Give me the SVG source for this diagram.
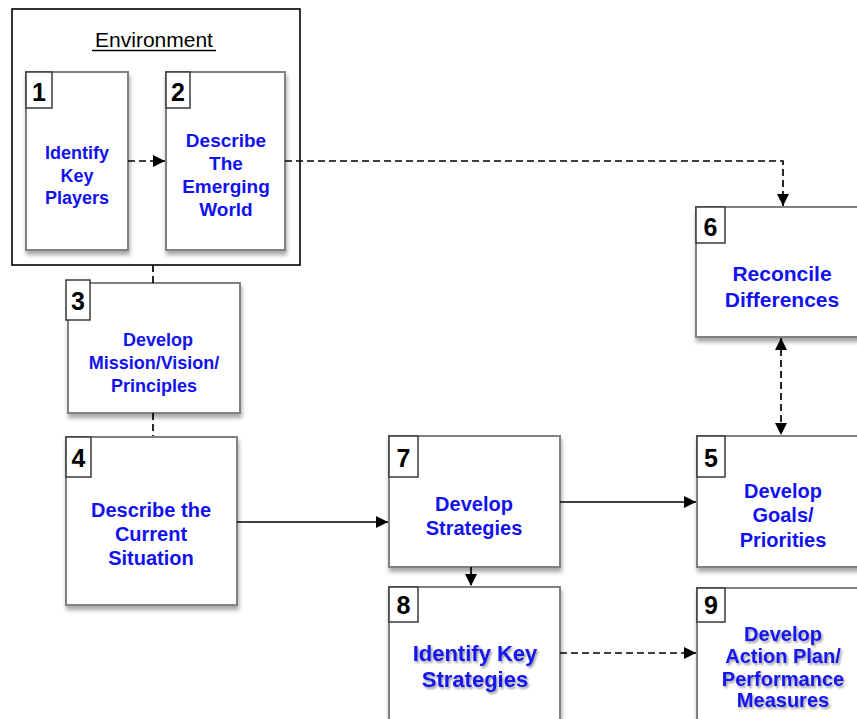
<svg xmlns="http://www.w3.org/2000/svg" width="857" height="719" viewBox="0 0 857 719">
<defs>
<filter id="sh" x="-10%" y="-10%" width="130%" height="130%">
<feDropShadow dx="1" dy="4" stdDeviation="2" flood-color="#000" flood-opacity="0.35"/>
</filter>
<filter id="tsh" x="-10%" y="-20%" width="130%" height="150%">
<feDropShadow dx="1.5" dy="2" stdDeviation="1" flood-color="#000" flood-opacity="0.4"/>
</filter>
<marker id="ah" markerUnits="userSpaceOnUse" markerWidth="12" markerHeight="12" refX="10" refY="5" orient="auto-start-reverse" viewBox="0 0 10 10">
<path d="M0,0 L10,5 L0,10 z" fill="#000"/>
</marker>
<style>
.box{fill:#fff;stroke:#7b8383;stroke-width:2;filter:url(#sh)}
.num{fill:#fff;stroke:#3a3a3a;stroke-width:1.5}
.numt{font-family:"Liberation Sans",Arial,sans-serif;font-weight:bold;font-size:25px;fill:#000;text-anchor:middle}
.lbl{font-family:"Liberation Sans",Arial,sans-serif;font-weight:bold;fill:#1212ee;text-anchor:middle}
.dash{fill:none;stroke:#000;stroke-width:1.7;stroke-dasharray:7 4}
.solid{fill:none;stroke:#000;stroke-width:1.7}
</style>
</defs>
<rect width="857" height="719" fill="#fff"/>

<g id="environment">
<rect x="12" y="9" width="288" height="256" fill="none" stroke="#000" stroke-width="1.6"/>
<text x="154" y="47" font-family="'Liberation Sans',Arial,sans-serif" font-size="21" text-anchor="middle" fill="#000">Environment</text>
<line x1="92" y1="50.5" x2="216" y2="50.5" stroke="#000" stroke-width="1.3"/>
</g>

<g id="node1">
<rect class="box" x="26" y="72" width="102" height="178"/>
<rect class="num" x="26" y="72" width="26" height="36"/>
<text class="numt" x="39" y="101">1</text>
<text class="lbl" font-size="18" x="77"><tspan x="77" y="159">Identify</tspan><tspan x="77" y="182">Key</tspan><tspan x="77" y="204">Players</tspan></text>
</g>

<g id="node2">
<rect class="box" x="166" y="72" width="119" height="178"/>
<rect class="num" x="166" y="72" width="24" height="36"/>
<text class="numt" x="178" y="101">2</text>
<text class="lbl" font-size="19" x="226"><tspan x="226" y="147">Describe</tspan><tspan x="226" y="170">The</tspan><tspan x="226" y="193">Emerging</tspan><tspan x="226" y="216">World</tspan></text>
</g>

<g id="node3">
<rect class="box" x="68" y="283" width="172" height="130"/>
<rect class="num" x="66" y="280" width="24" height="40"/>
<text class="numt" x="78" y="310">3</text>
<text class="lbl" font-size="18" x="155"><tspan x="158" y="346">Develop</tspan><tspan x="154" y="369">Mission/Vision/</tspan><tspan x="154" y="392">Principles</tspan></text>
</g>

<g id="node4">
<rect class="box" x="66" y="437" width="171" height="168"/>
<rect class="num" x="66" y="437" width="25" height="40"/>
<text class="numt" x="78.5" y="467">4</text>
<text class="lbl" font-size="20" x="151"><tspan x="151" y="517">Describe the</tspan><tspan x="151" y="541">Current</tspan><tspan x="151" y="565">Situation</tspan></text>
</g>

<g id="node6">
<rect class="box" x="696" y="207" width="180" height="130"/>
<rect class="num" x="696" y="207" width="29" height="36"/>
<text class="numt" x="710.5" y="236">6</text>
<text class="lbl" font-size="21" x="782"><tspan x="782" y="281">Reconcile</tspan><tspan x="782" y="307">Differences</tspan></text>
</g>

<g id="node7">
<rect class="box" x="389" y="436" width="171" height="131"/>
<rect class="num" x="389" y="436" width="29" height="41"/>
<text class="numt" x="403.5" y="467">7</text>
<text class="lbl" font-size="20" x="474"><tspan x="474" y="511">Develop</tspan><tspan x="474" y="535">Strategies</tspan></text>
</g>

<g id="node5">
<rect class="box" x="697" y="436" width="180" height="131"/>
<rect class="num" x="697" y="436" width="28" height="41"/>
<text class="numt" x="711" y="467">5</text>
<text class="lbl" font-size="20" x="783"><tspan x="783" y="498">Develop</tspan><tspan x="783" y="522">Goals/</tspan><tspan x="783" y="547">Priorities</tspan></text>
</g>

<g id="node8">
<rect class="box" x="389" y="587" width="171" height="150"/>
<rect class="num" x="389" y="587" width="29" height="35"/>
<text class="numt" x="403.5" y="614">8</text>
<text class="lbl" font-size="22" x="475" filter="url(#tsh)"><tspan x="475" y="661">Identify Key</tspan><tspan x="475" y="687">Strategies</tspan></text>
</g>

<g id="node9">
<rect class="box" x="697" y="588" width="180" height="150"/>
<rect class="num" x="697" y="588" width="28" height="34"/>
<text class="numt" x="711" y="614">9</text>
<text class="lbl" font-size="20" x="783" filter="url(#tsh)"><tspan x="783" y="641">Develop</tspan><tspan x="783" y="663">Action Plan/</tspan><tspan x="783" y="686">Performance</tspan><tspan x="783" y="707">Measures</tspan></text>
</g>

<g id="connectors">
<path class="dash" d="M128,161 H165" marker-end="url(#ah)"/>
<path class="dash" d="M285,161 H783 V206" marker-end="url(#ah)"/>
<path class="dash" d="M153,265 V283"/>
<path class="dash" d="M153,413 V436"/>
<path class="solid" d="M237,522 H388" marker-end="url(#ah)"/>
<path class="solid" d="M560,502 H696" marker-end="url(#ah)"/>
<path class="dash" d="M471,567 V586" marker-end="url(#ah)"/>
<path class="dash" d="M560,653 H696" marker-end="url(#ah)"/>
<path class="dash" d="M781,338 V435" marker-start="url(#ah)" marker-end="url(#ah)"/>
</g>
</svg>
